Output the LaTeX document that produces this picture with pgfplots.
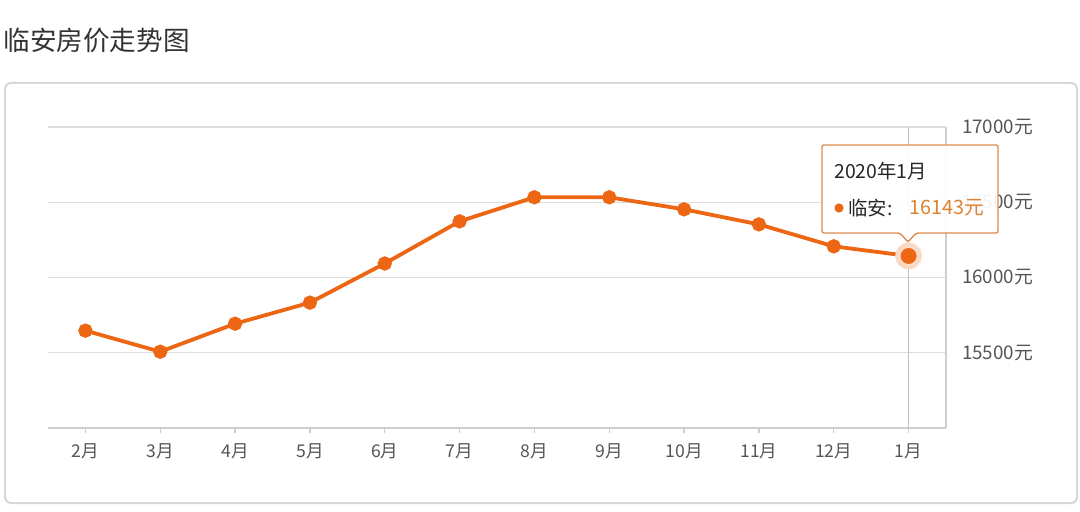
\documentclass[border=0pt]{standalone}
\usepackage{pgfplots}
\pgfplotsset{compat=1.18}
\usepackage{fontspec}
\setmainfont{Noto Sans CJK SC}
\definecolor{lineor}{RGB}{236,102,20}
\definecolor{valor}{RGB}{222,130,50}
\definecolor{tipbd}{RGB}{220,140,80}
\definecolor{gridc}{RGB}{222,222,222}
\definecolor{axc}{RGB}{205,205,210}
\definecolor{txt}{RGB}{85,85,85}
\definecolor{boxc}{RGB}{215,215,215}
\begin{document}
\begin{tikzpicture}
\path[use as bounding box] (0,0) rectangle (540pt,-256pt);
% title
\node[anchor=west,text=black!80,font=\fontsize{13.3pt}{14pt}\selectfont,inner sep=0pt] at (1.5pt,-20pt) {临安房价走势图};
% outer box
\draw[boxc,line width=1pt,rounded corners=3pt] (2.5pt,-41.5pt) rectangle (538.5pt,-251.5pt);
\begin{axis}[
  at={(24pt,-214pt)}, anchor=south west,
  scale only axis, width=449pt, height=150.5pt,
  xmin=-0.5, xmax=11.5, ymin=15000, ymax=17000,
  scaled y ticks=false,
  axis x line*=bottom, axis y line*=right,
  x axis line style={axc,line width=1pt,-},
  y axis line style={axc,line width=0.6pt,-},
  xtick={0,...,11},
  xticklabels={2月,3月,4月,5月,6月,7月,8月,9月,10月,11月,12月,1月},
  ytick={15500,16000,16500,17000},
  yticklabels={15500元,16000元,16500元,17000元},
  tick align=outside,
  major tick length=2.5pt,
  xtick style={axc,line width=0.6pt},
  ytick style={draw=none},
  ymajorgrids, grid style={gridc,line width=0.6pt},
  xticklabel style={text=txt,font=\fontsize{8.8pt}{10pt}\selectfont,yshift=-2pt},
  yticklabel style={text=txt,font=\fontsize{9.4pt}{10pt}\selectfont,anchor=west,xshift=2pt},
  clip=false,
]
\addplot[axc!85!gray,line width=0.6pt] coordinates {(11,15000) (11,17000)};
\addplot[lineor,line width=1.9pt,mark=*,mark size=2.6pt,mark options={fill=lineor,draw=lineor}] coordinates {
(0,15647) (1,15507) (2,15693) (3,15833) (4,16093) (5,16373)
(6,16533) (7,16533) (8,16453) (9,16353) (10,16207) (11,16143)};
\addplot[lineor!25,only marks,mark=*,mark size=6.5pt,mark options={fill=lineor!25,draw=none}] coordinates {(11,16143)};
\addplot[lineor,only marks,mark=*,mark size=4.3pt,mark options={fill=lineor,draw=white!80!lineor,line width=0.5pt}] coordinates {(11,16143)};
\end{axis}
% tooltip
\draw[tipbd,line width=0.7pt,fill=white,fill opacity=0.93,rounded corners=1pt]
  (411pt,-72.5pt) -- (499pt,-72.5pt) -- (499pt,-116.5pt) -- (458pt,-116.5pt) -- (454pt,-121pt) -- (450pt,-116.5pt) -- (411pt,-116.5pt) -- cycle;
\node[anchor=west,inner sep=0pt,text=black!85,font=\fontsize{9.7pt}{10pt}\selectfont] at (417pt,-85.5pt) {2020年1月};
\fill[lineor] (419.5pt,-104pt) circle (2.3pt);
\node[anchor=west,inner sep=0pt,text=black!85,font=\fontsize{9.7pt}{10pt}\selectfont] at (424pt,-104pt) {临安:};
\node[anchor=west,inner sep=0pt,text=valor,font=\fontsize{9.9pt}{10pt}\selectfont] at (454.5pt,-104pt) {16143元};
\end{tikzpicture}
\end{document}
